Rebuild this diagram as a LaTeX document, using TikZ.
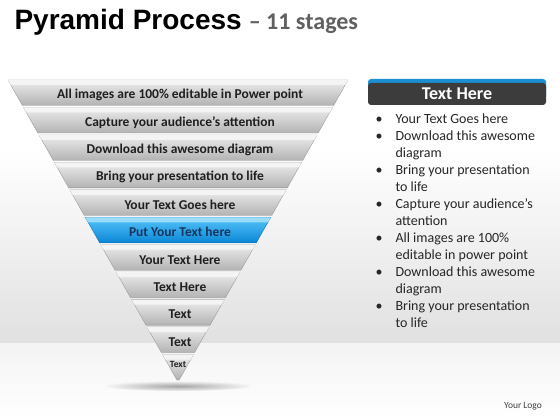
\documentclass[tikz,border=0pt]{standalone}
\usepackage{fontspec}
\setmainfont{Carlito}
\newfontfamily\titlefont{Liberation Sans}
\usetikzlibrary{positioning}
\definecolor{hitop}{HTML}{55C4FA}
\definecolor{hibot}{HTML}{0B86D6}
\definecolor{hibev}{HTML}{9ADCFC}
\definecolor{hitxt}{HTML}{17365D}
\definecolor{headbg}{HTML}{3C3C3C}
\definecolor{headln}{HTML}{1C8FD2}

\begin{document}
\begin{tikzpicture}[x=1pt,y=1pt,
  band/.style={top color=bandtop,bottom color=bandbot,draw=bandbot!80!black,line width=0.3pt},
  bevel/.style={fill=bandbev},
  lab/.style={font=\bfseries\fontsize{\fs}{14}\selectfont,text=bandtxt},
  bul/.style={font=\fontsize{14}{17}\selectfont,text=black!85,align=left}]
\useasboundingbox (0,0) rectangle (560,-420);
% background: wall and floor
\fill[white] (0,0) rectangle (560,-150);
\shade[top color=white,bottom color=gray!24] (0,-150) rectangle (560,-343);
\shade[top color=gray!9,bottom color=white] (0,-343) rectangle (560,-420);
\shade[inner color=gray!70,outer color=gray!8] (178,-386) ellipse (72 and 5);
% title
\node[anchor=base west,font=\titlefont\bfseries\fontsize{28}{32}\selectfont] (title) at (11,-30) {Pyramid Process};
\node[anchor=base west,font=\bfseries\fontsize{24}{28}\selectfont,text=gray!75!black] (sub) at ([xshift=0pt]title.base east) {– 11 stages};
% pyramid bands
\foreach \t [count=\i] in {All images are 100\% editable in Power point,Capture your audience’s  attention,Download this awesome diagram,Bring your presentation to life,Your Text Goes here,Put Your Text here,Your Text Here,Text Here,Text,Text,Text}{
  \pgfmathsetmacro\yt{80+27.45*(\i-1)}
  \pgfmathsetmacro\yb{min(\yt+25.5,382)}
  \pgfmathsetmacro\wt{0.5629*(382-\yt)}
  \pgfmathsetmacro\wv{0.5629*(382-\yt-5)}
  \pgfmathsetmacro\wb{0.5629*(382-\yb)}
  \ifnum\i=6
    \colorlet{bandtop}{hitop}\colorlet{bandbot}{hibot}\colorlet{bandbev}{hibev}\colorlet{bandtxt}{hitxt}
  \else
    \colorlet{bandtop}{gray!14}\colorlet{bandbot}{gray!60}\colorlet{bandbev}{gray!9}\colorlet{bandtxt}{black!88}
  \fi
  \ifnum\i=11 \def\fs{9.5}\else\def\fs{13.5}\fi
  \shade[band] (178-\wt,-\yt) -- (178+\wt,-\yt) -- (178+\wb,-\yb) -- (178-\wb,-\yb) -- cycle;
  \fill[bevel] (178-\wt,-\yt) -- (178+\wt,-\yt) -- (178+\wv,-\yt-5) -- (178-\wv,-\yt-5) -- cycle;
  \ifnum\i=11
    \node[lab] (s\i) at (178,-\yt-10) {\t};
  \else
    \node[lab] (s\i) at (180,-\yt-15) {\t};
  \fi
}
% right panel
\fill[headln,rounded corners=3pt] (368,-79) rectangle (546,-98);
\fill[headbg,rounded corners=3pt] (368,-83) rectangle (546,-105);
\node[font=\bfseries\fontsize{18}{20}\selectfont,text=white] (head) at (457,-94) {Text Here};
\node[bul,anchor=north west] (list) at (372,-108) {%
  \begin{tabular}{@{}p{20pt}@{}l@{}}
  • & Your Text Goes here\\
  • & Download this awesome\\
    & diagram\\
  • & Bring your presentation\\
    & to life\\
  • & Capture your audience’s\\
    & attention\\
  • & All images are 100\%\\
    & editable in power point\\
  • & Download this awesome\\
    & diagram\\
  • & Bring your presentation\\
    & to life
  \end{tabular}};
\node[font=\fontsize{9.5}{11}\selectfont,text=black!75] (logo) at (523,-406) {Your Logo};
\end{tikzpicture}
\end{document}
